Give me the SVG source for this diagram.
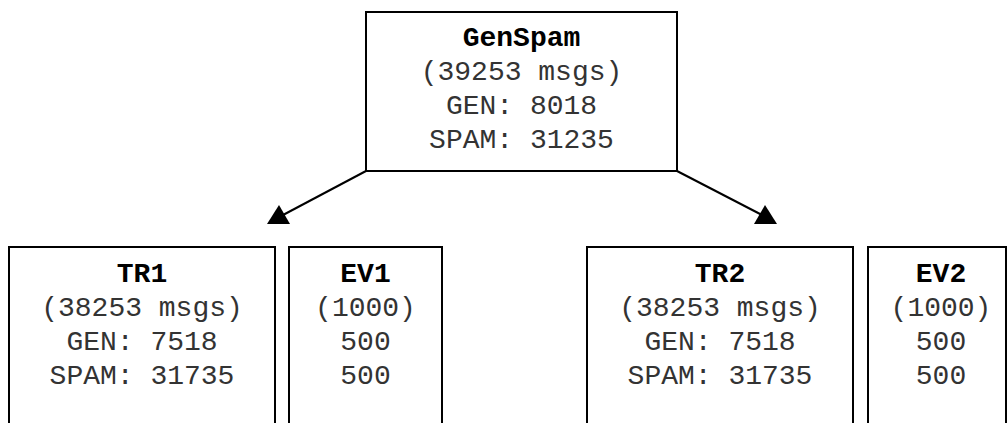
<svg xmlns="http://www.w3.org/2000/svg" width="1008" height="423" viewBox="0 0 1008 423">
<style>
.box{fill:#fff;stroke:#000;stroke-width:2}
.t{font-family:"Liberation Mono","Courier New",monospace;font-size:28px;fill:#333;text-anchor:middle}
.b{font-weight:bold;fill:#000}
.c{stroke:#000;stroke-width:2;fill:none}
</style>
<rect width="1008" height="423" fill="#fff"/>
<g id="connectors">
<line class="c" x1="366" y1="171" x2="283" y2="215"/>
<polygon points="279,205 267,224 290,224" fill="#000"/>
<line class="c" x1="677" y1="171" x2="762" y2="215"/>
<polygon points="765,205 754,224 777,224" fill="#000"/>
</g>
<g id="genspam">
<rect class="box" x="366" y="12" width="311" height="159"/>
<text class="t b" x="521.5" y="46">GenSpam</text>
<text class="t" x="521.5" y="80">(39253 msgs)</text>
<text class="t" x="521.5" y="114">GEN: 8018</text>
<text class="t" x="521.5" y="148">SPAM: 31235</text>
</g>
<g id="tr1">
<rect class="box" x="9" y="247" width="266" height="200"/>
<text class="t b" x="142" y="282">TR1</text>
<text class="t" x="142" y="316">(38253 msgs)</text>
<text class="t" x="142" y="350">GEN: 7518</text>
<text class="t" x="142" y="384">SPAM: 31735</text>
</g>
<g id="ev1">
<rect class="box" x="289" y="247" width="153" height="200"/>
<text class="t b" x="365.5" y="282">EV1</text>
<text class="t" x="365.5" y="316">(1000)</text>
<text class="t" x="365.5" y="350">500</text>
<text class="t" x="365.5" y="384">500</text>
</g>
<g id="tr2">
<rect class="box" x="587" y="247" width="266" height="200"/>
<text class="t b" x="720" y="282">TR2</text>
<text class="t" x="720" y="316">(38253 msgs)</text>
<text class="t" x="720" y="350">GEN: 7518</text>
<text class="t" x="720" y="384">SPAM: 31735</text>
</g>
<g id="ev2">
<rect class="box" x="868" y="247" width="138" height="200"/>
<text class="t b" x="941" y="282">EV2</text>
<text class="t" x="941" y="316">(1000)</text>
<text class="t" x="941" y="350">500</text>
<text class="t" x="941" y="384">500</text>
</g>
</svg>
